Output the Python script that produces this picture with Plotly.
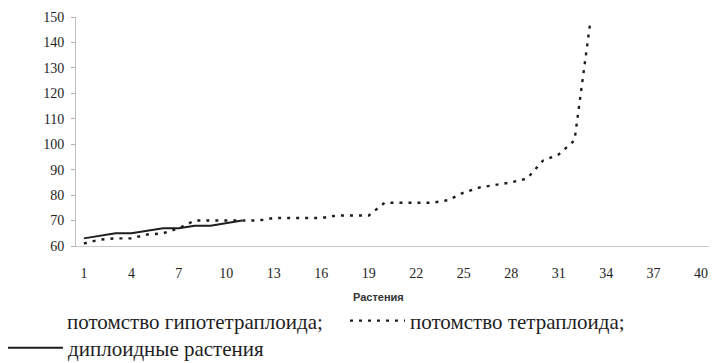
import plotly.graph_objects as go

# ---- data ----
plants = list(range(1, 41))
x_tick_labels = list(range(1, 41, 3))
y_tick_labels = list(range(60, 151, 10))

tetraploid_x = list(range(1, 34))
tetraploid = [61, 62.5, 63, 63, 64.5, 65, 67, 70, 70, 70, 70, 70, 71, 71, 71, 71,
              72, 72, 72, 77, 77, 77, 77, 78, 81, 83, 84, 85, 86.5, 93.5, 96,
              101.5, 148]

diploid_x = list(range(1, 12))
diploid = [63, 64, 65, 65, 66, 67, 67, 68, 68, 69, 70]

# the hypotetraploid series is not visible in the picture (legend entry only)
hypo_x = [None]
hypotetraploid = [None]

names = ["потомство гипотетраплоида;", "потомство тетраплоида;", "диплоидные растения"]

SERIF = '"Liberation Serif", "Times New Roman", Times, serif'
SANS = '"Liberation Sans", Arial, sans-serif'
INK = "#1e1e1e"
PLOT_TOP, PLOT_BOTTOM, PLOT_LEFT, PLOT_RIGHT = 17, 246, 76, 709


def leg(x_px, y_px, itemwidth=30):
    return dict(orientation="h", xref="container", yref="container",
                x=x_px / 714, y=1 - y_px / 363, xanchor="left", yanchor="middle",
                font=dict(family=SERIF, size=21, color=INK), itemwidth=itemwidth,
                bgcolor="rgba(0,0,0,0)", borderwidth=0)


fig = go.Figure()
fig.add_trace(go.Scatter(x=hypo_x, y=hypotetraploid, mode="lines", name=names[0],
                         line=dict(color="rgba(0,0,0,0)", width=2), legend="legend"))
fig.add_trace(go.Scatter(x=tetraploid_x, y=tetraploid, mode="lines", name=names[1],
                         line=dict(color=INK, width=2.4, dash="3px,6px"), legend="legend2"))
fig.add_trace(go.Scatter(x=diploid_x, y=diploid, mode="lines", name=names[2],
                         line=dict(color=INK, width=2), legend="legend3"))

fig.update_layout(
    width=714, height=363,
    margin=dict(l=PLOT_LEFT, r=714 - PLOT_RIGHT, t=PLOT_TOP, b=363 - PLOT_BOTTOM),
    plot_bgcolor="white", paper_bgcolor="white",
    font=dict(family=SERIF, color=INK),
    showlegend=True,
    legend=leg(27, 321),
    legend2=leg(345, 321, itemwidth=55),
    legend3=leg(3, 348, itemwidth=55),
    annotations=[dict(text="<b>Растения</b>", xref="paper", yref="paper",
                      x=(378 - PLOT_LEFT) / (PLOT_RIGHT - PLOT_LEFT),
                      y=(PLOT_BOTTOM - 297) / (PLOT_BOTTOM - PLOT_TOP),
                      showarrow=False, xanchor="center", yanchor="middle",
                      font=dict(family=SANS, size=11, color="#333"))],
)

fig.update_xaxes(range=[0.5, 40.5], tickmode="array", tickvals=x_tick_labels,
                 ticktext=[str(v) for v in x_tick_labels],
                 showgrid=False, zeroline=False, showline=True, linecolor="#c8c8c8",
                 linewidth=1, ticks="", ticklabelstandoff=14,
                 tickfont=dict(family=SERIF, size=14, color=INK))
fig.update_yaxes(range=[60, 150], tickmode="array", tickvals=y_tick_labels,
                 showgrid=False, zeroline=False, showline=True, linecolor="#c0c0c0",
                 linewidth=1, ticks="outside", ticklen=4, tickcolor="#b0b0b0",
                 ticklabelstandoff=4,
                 tickfont=dict(family=SERIF, size=14, color=INK))

fig.write_html("out.html")
